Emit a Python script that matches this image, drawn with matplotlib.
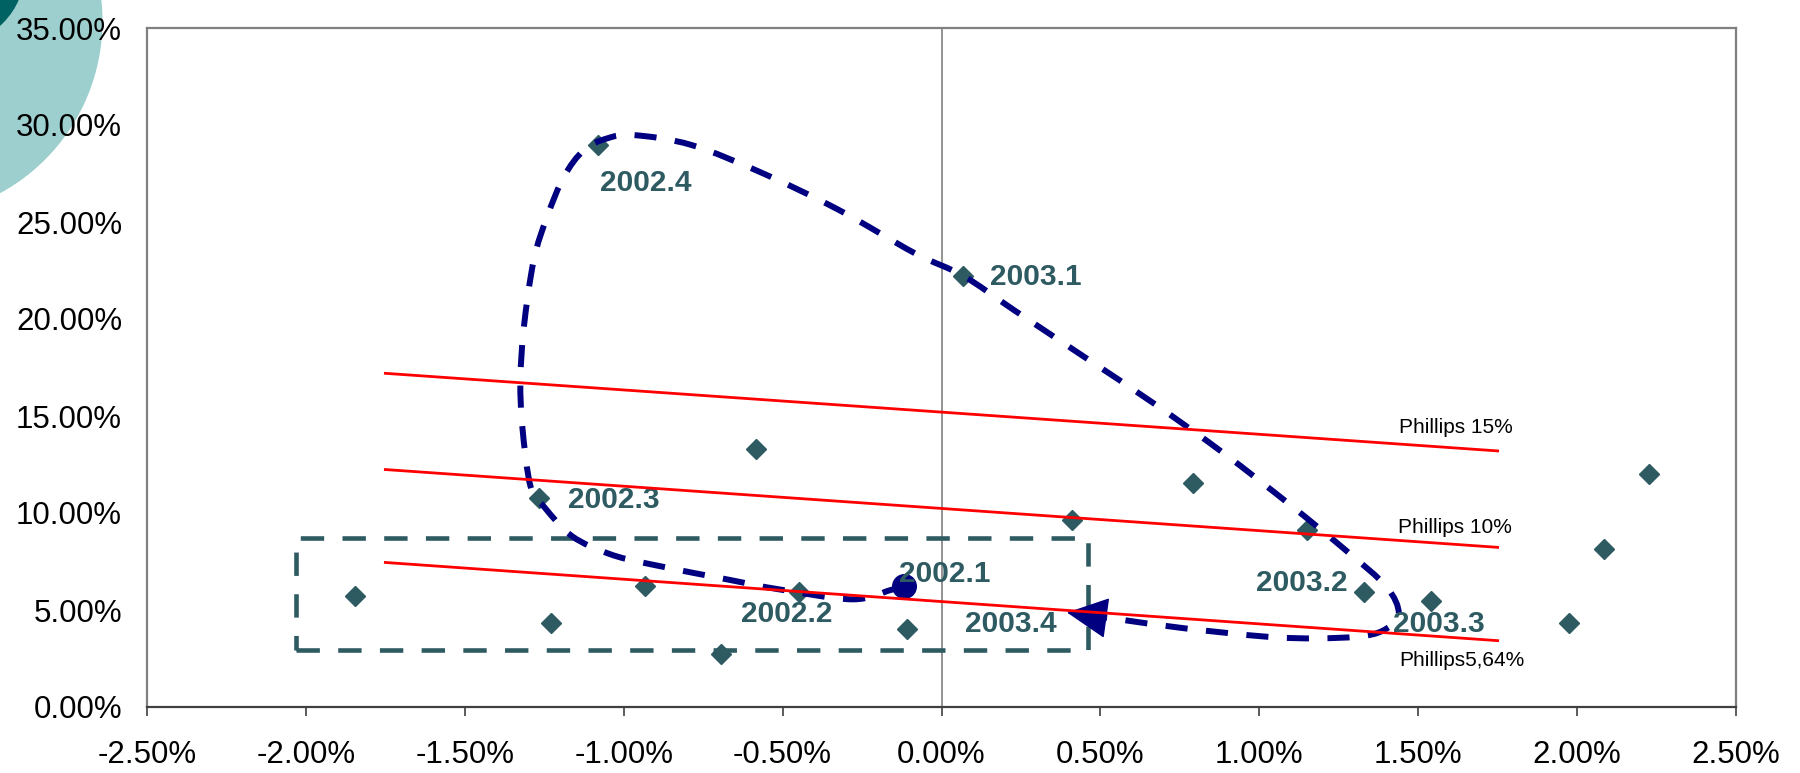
import numpy as np
import matplotlib
matplotlib.use('Agg')
import matplotlib.pyplot as plt
from matplotlib.path import Path
from matplotlib.patches import PathPatch, Circle, Rectangle

plt.rcParams['font.family'] = ['Liberation Sans', 'DejaVu Sans']

# quarterly points (x: output gap %, y: inflation %)
pts_x = [-1.844, -1.230, -0.933, -0.693, -0.584, -0.449, -0.110, -1.267, -1.081,
         0.068, 0.411, 0.791, 1.151, 1.329, 1.541, 1.975, 2.086, 2.225]
pts_y = [5.74, 4.31, 6.24, 2.72, 13.30, 5.94, 4.00, 10.76, 28.97,
         22.23, 9.64, 11.53, 9.12, 5.92, 5.44, 4.31, 8.14, 12.01]

# start of the loop (2002.1)
start_x = -0.119
start_y = 6.24

# labels
lab_txt = ['2002.1', '2002.2', '2002.3', '2002.4', '2003.1', '2003.2', '2003.3', '2003.4']
lab_x = [0.011, -0.486, -1.032, -0.931, 0.298, 1.135, 1.565, 0.219]
lab_y = [6.86, 4.79, 10.67, 27.01, 22.18, 6.38, 4.29, 4.28]

# phillips curves
ph_x = [-1.75, 1.75]
ph15 = [17.2, 13.2]
ph10 = [12.24, 8.23]
ph564 = [7.45, 3.42]
ph_names = ['Phillips 15%', 'Phillips 10%', 'Phillips5,64%']
ph_lab_x = [1.617, 1.617, 1.639]
ph_lab_y = [14.43, 9.25, 2.42]

# hand drawn loop (waypoints)
loop_x = [-0.119, -0.16, -0.281, -0.513, -0.666, -0.919, -1.045, -1.163, -1.249, -1.293,
          -1.319, -1.325, -1.314, -1.283, -1.241, -1.188, -1.125, -1.052, -0.968, -0.787,
          -0.562, -0.323, -0.084, 0.068, 0.228, 0.448, 0.668, 0.888, 1.098, 1.277,
          1.40, 1.439, 1.402, 1.329, 1.182, 1.025, 0.763, 0.574, 0.505]
loop_y = [6.24, 6.03, 5.55, 6.07, 6.55, 7.37, 7.89, 8.81, 10.29, 11.36,
          14.45, 16.86, 19.6, 23.04, 25.27, 27.34, 28.71, 29.31, 29.48, 28.97,
          27.51, 25.62, 23.39, 22.23, 20.46, 18.06, 15.65, 13.08, 10.41, 8.01,
          6.2, 4.83, 4.06, 3.66, 3.54, 3.62, 4.06, 4.48, 4.62]
arrow_tip = (0.395, 4.87)

# box around low-inflation quarters
box_x0, box_x1 = -2.03, 0.462
box_y0, box_y1 = 2.94, 8.70

teal = '#2E5A62'
navy = '#000080'

fig = plt.figure(figsize=(18, 7.73), dpi=100)

# slide decoration top-left
bg = fig.add_axes([0, 0, 1, 1], zorder=-1)
bg.set_xlim(0, 1800)
bg.set_ylim(773, 0)
bg.axis('off')
bg.add_patch(Circle((-93.5, 21), 196, color='#9DCFCF', lw=0))
bg.add_patch(Circle((-50, -30), 75, color='#006262', lw=0))

ax = fig.add_axes([147/1800, 1-707/773, (1736-147)/1800, (707-28)/773])
ax.set_xlim(-2.5, 2.5)
ax.set_ylim(0, 35)
ax.set_xticks(np.arange(-2.5, 2.51, 0.5))
ax.set_yticks(np.arange(0, 35.1, 5))
ax.xaxis.set_major_formatter(lambda v, p: '%.2f%%' % v)
ax.yaxis.set_major_formatter(lambda v, p: '%.2f%%' % v)
ax.tick_params(axis='x', direction='out', length=6.5, width=1.2, color='#404040', pad=17, labelsize=22.5)
ax.tick_params(axis='y', length=0, pad=18, labelsize=22.5)
for s in ['left', 'top', 'right']:
    ax.spines[s].set_color('#808080')
    ax.spines[s].set_linewidth(1.6)
ax.spines['bottom'].set_color('#404040')
ax.spines['bottom'].set_linewidth(1.6)

ax.axvline(0, color='#808080', lw=1.2, zorder=1)

ax.add_patch(Rectangle((box_x0, box_y0), box_x1-box_x0, box_y1-box_y0, fill=False,
                       ec=teal, lw=3.3, ls=(0, (5.1, 4.0)), zorder=2))

ax.plot(pts_x, pts_y, 'D', color=teal, ms=10, mec=teal, zorder=3, clip_on=False)

# smooth the loop like excel's smoothed line (bezier between waypoints)
p = np.column_stack([loop_x, loop_y])
n = len(p)
verts = [p[0]]
codes = [Path.MOVETO]
for i in range(n-1):
    a = p[max(i-1, 0)]
    d = p[min(i+2, n-1)]
    verts += [p[i] + (p[i+1]-a)/6, p[i+1] - (d-p[i])/6, p[i+1]]
    codes += [Path.CURVE4]*3
ax.add_patch(PathPatch(Path(verts, codes), fill=False, ec=navy, lw=4.3,
                       ls=(0, (3.7, 3.1)), capstyle='butt', zorder=4))
ax.annotate('', xy=arrow_tip, xytext=(loop_x[-1], loop_y[-1]),
            arrowprops=dict(arrowstyle='-|>,head_length=0.9,head_width=0.45', mutation_scale=30,
                            color=navy, lw=1, shrinkA=0, shrinkB=0), zorder=5)
ax.plot([start_x], [start_y], 'o', color=navy, ms=17, zorder=5)

for t, x, y in zip(lab_txt, lab_x, lab_y):
    ax.text(x, y, t, ha='center', va='center', fontsize=21.5, fontweight='bold', color=teal, zorder=6)

for yy in [ph15, ph10, ph564]:
    ax.plot(ph_x, yy, color='#FF0000', lw=2, zorder=7)
for t, x, y in zip(ph_names, ph_lab_x, ph_lab_y):
    ax.text(x, y, t, ha='center', va='center', fontsize=15, color='black', zorder=7)

fig.savefig('out.png', dpi=100)
